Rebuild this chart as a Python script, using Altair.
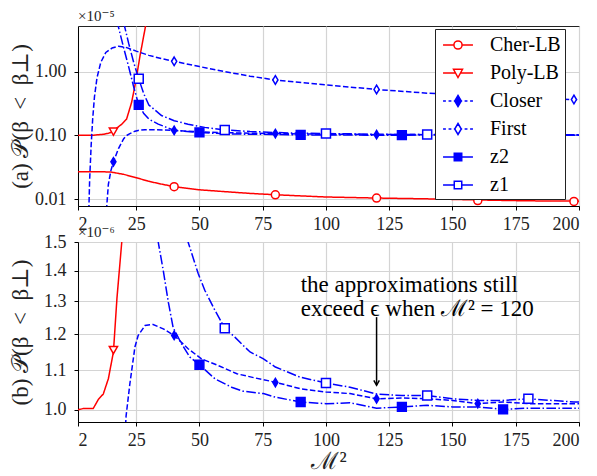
import altair as alt
import pandas as pd

FONT = "Liberation Serif, DejaVu Serif, serif"
SERIES = ["Cher-LB", "Poly-LB", "Closer", "First", "z2", "z1"]
B_SERIES = ["Poly-LB", "Closer", "z2", "z1"]
COLORS = ["#ff0000", "#ff0000", "#0000ff", "#0000ff", "#0000ff", "#0000ff"]
FILLS = ["#ffffff", "#ffffff", "#0000ff", "#ffffff", "#0000ff", "#ffffff"]
DASHES = [[1, 0], [1, 0], [5.5, 2.4], [5.5, 2.4], [9.6, 2.4, 1.5, 2.4], [9.6, 2.4, 1.5, 2.4]]
TRI = "M-1,-0.8L1,-0.8L0,0.95Z"
DIA = "M0,-1L0.6,0L0,1L-0.6,0Z"
SHAPES = ["circle", TRI, DIA, DIA, "square", "square"]
SIZES = [64, 81, 121, 121, 56, 56]
XTICKS = [2, 25, 50, 75, 100, 125, 150, 175, 200]

# curves, values in units of 1e-5
cher_x = [2, 10, 15, 20, 25, 30, 35, 40, 50, 60, 70, 80, 100, 120, 140, 160, 180, 200]
cher_y = [0.027, 0.027, 0.0266, 0.0245, 0.0217, 0.019, 0.0172, 0.0157, 0.0140, 0.0131,
          0.0123, 0.0117, 0.0108, 0.0104, 0.0101, 0.0097, 0.0094, 0.0093]
poly_x = [2, 4, 8, 10, 12, 14, 16, 17.4, 19.3, 21.2, 23.2, 25, 26.5, 28.7, 29.5]
poly_y = [0.100, 0.1003, 0.1003, 0.1025, 0.1039, 0.1078, 0.115, 0.131, 0.150, 0.18,
          0.33, 0.76, 1.77, 5.2, 7.0]
closer_x = [13, 14, 15, 16, 18, 20, 21, 22.5, 24.5, 25.8, 28.5, 31.7, 35.7, 40, 45.5, 50.8,
            57.4, 64.8, 72, 80, 90, 100, 109.5, 120, 130.5, 140, 150, 160, 170, 180, 200]
closer_y = [0.005, 0.017, 0.028, 0.0385, 0.062, 0.088, 0.0985, 0.1065, 0.1164, 0.1197, 0.1226,
            0.1229, 0.1216, 0.1197, 0.1159, 0.1131, 0.1113, 0.1091, 0.108, 0.1069, 0.1052,
            0.1044, 0.1040, 0.1027, 0.1029, 0.1027, 0.1023, 0.1015, 0.1019, 0.1015, 0.1015]
first_x = [6.2, 6.6, 7.2, 7.8, 8.5, 9.5, 11, 13, 15.5, 18, 21, 25, 30, 35, 40, 50, 60, 70,
           80, 100, 120, 140, 160, 180, 200]
first_y = [0.005, 0.02, 0.07, 0.18, 0.4, 0.8, 1.4, 2.0, 2.35, 2.5, 2.4, 2.1, 1.8, 1.6, 1.45,
           1.2, 1.0, 0.85, 0.74, 0.62, 0.525, 0.46, 0.42, 0.39, 0.36]
z2_x = [17.5, 18, 20, 22, 24, 26, 28, 30, 33.7, 35.7, 37.7, 39.6, 42.9, 46.2, 50, 56.1, 62.7,
        67.3, 75.3, 80, 90, 100, 109.5, 120, 130, 140, 150, 160, 170, 180, 200]
z2_y = [6.5, 5.0, 2.4, 1.2, 0.58, 0.30, 0.22, 0.18, 0.15, 0.140, 0.1297, 0.122, 0.1173, 0.1136,
        0.1115, 0.1078, 0.1056, 0.1046, 0.104, 0.1031, 0.1019, 0.1015, 0.1017, 0.1004, 0.1007,
        0.1011, 0.1007, 0.1007, 0.1001, 0.1004, 0.1004]
z1_x = [20, 22, 24, 26, 28, 30, 35, 40, 45.5, 49.5, 52.1, 56.1, 60, 64, 67.9, 70, 75.3, 80,
        89.8, 100, 109.5, 120, 130, 140, 150, 160, 170, 180, 198, 200]
z1_y = [6.0, 2.8, 1.4, 0.77, 0.45, 0.30, 0.205, 0.17, 0.15, 0.139, 0.1335, 0.1272, 0.1218,
        0.1192, 0.1164, 0.115, 0.1131, 0.1109, 0.1082, 0.1067, 0.1056, 0.1039, 0.1035, 0.1035,
        0.1027, 0.1023, 0.1023, 0.1027, 0.1019, 0.1019]

# marker positions
cher_mx, cher_my = [40, 80, 120, 160, 198], [0.0157, 0.0117, 0.0104, 0.0095, 0.0092]
poly_mx, poly_my = [16], [0.1156]
closer_mx, closer_my = [16, 40, 80, 120, 160], [0.0385, 0.1197, 0.1068, 0.1027, 0.1015]
first_mx, first_my = [40, 80, 120, 160, 198], [1.45, 0.74, 0.525, 0.43, 0.365]
z2_mx, z2_my = [26, 50, 90, 130, 170], [0.30, 0.1115, 0.1019, 0.1007, 0.1001]
z1_mx, z1_my = [26, 60, 100, 140, 180], [0.77, 0.1218, 0.1067, 0.1035, 0.1027]

ANN_TEXT = "the approximations still\nexceed ϵ when ℳ² = 120"
ANN_X, ANN_Y = 90, 1.33
ARROW_X, ARROW_Y0, ARROW_Y1 = 120, 1.251, 1.061


def long(d):
    rows = []
    for s, (xs, ys) in d.items():
        for xx, yy in zip(xs, ys):
            rows.append({"series": s, "x": xx, "v": yy})
    return pd.DataFrame(rows)


lines = long({"Cher-LB": (cher_x, cher_y), "Poly-LB": (poly_x, poly_y),
              "Closer": (closer_x, closer_y), "First": (first_x, first_y),
              "z2": (z2_x, z2_y), "z1": (z1_x, z1_y)})
marks = long({"Cher-LB": (cher_mx, cher_my), "Poly-LB": (poly_mx, poly_my),
              "Closer": (closer_mx, closer_my), "First": (first_mx, first_my),
              "z2": (z2_mx, z2_my), "z1": (z1_mx, z1_my)})

# legend symbols (unit = 11 px): a line through the marker
DASHED = ("M-1.36,0L-1.1,0M-0.86,0L-0.6,0M-0.38,0L-0.3,0"
          "M0.3,0L0.38,0M0.6,0L0.86,0M1.1,0L1.36,0")
LEG_PATHS = [
    "M-1.36,0L-0.37,0M0.37,0L1.36,0M0.37,0A0.37,0.37 0 1,1 -0.37,0A0.37,0.37 0 1,1 0.37,0Z",
    "M-1.36,0L-0.22,0M0.22,0L1.36,0M-0.41,-0.34L0.41,-0.34L0,0.41Z",
    DASHED + "M0,-0.5L0.3,0L0,0.5L-0.3,0Z",
    DASHED + "M0,-0.5L0.3,0L0,0.5L-0.3,0Z",
    "M-1.36,0L-0.34,0M0.34,0L1.36,0M-0.34,-0.34L0.34,-0.34L0.34,0.34L-0.34,0.34Z",
    "M-1.36,0L-0.34,0M0.34,0L1.36,0M-0.34,-0.34L0.34,-0.34L0.34,0.34L-0.34,0.34Z",
]

legend_a = alt.Legend(
    title=None, orient="none", legendX=357, legendY=3, fillColor="white",
    strokeColor="#222222", padding=4, labelFont=FONT, labelFontSize=20,
    labelColor="black", symbolSize=484, symbolStrokeWidth=1.5, rowPadding=6,
    symbolOffset=7, labelOffset=20, zindex=2,
)

x_scale = alt.Scale(domain=[2, 200], nice=False, zero=False)


def x_enc(title):
    return alt.X("x:Q", scale=x_scale, axis=alt.Axis(values=XTICKS, title=title))


def panel(field, series_subset, ydomain, yticks, yfmt, ytitle, with_legend, exp_text, xtitle, extra=()):
    yscale = alt.Scale(type="log", domain=ydomain, nice=False)
    yaxis = alt.Axis(values=yticks, format=yfmt, title=ytitle, titleX=-46,
                     titleAngle=270, titleBaseline="bottom", labelPadding=8)
    y = alt.Y(f"{field}:Q", scale=yscale, axis=yaxis)
    calc = {"w": "datum.v * 10"}
    filt = alt.FieldOneOfPredicate(field="series", oneOf=series_subset)
    ln = (alt.Chart(lines).transform_filter(filt).transform_calculate(**calc)
          .mark_line(clip=True, strokeWidth=1.5)
          .encode(x=x_enc(xtitle), y=y,
                  color=alt.Color("series:N", scale=alt.Scale(domain=SERIES, range=COLORS), legend=None),
                  strokeDash=alt.StrokeDash("series:N", scale=alt.Scale(domain=SERIES, range=DASHES), legend=None)))
    pt = (alt.Chart(marks).transform_filter(filt).transform_calculate(**calc)
          .mark_point(clip=True, filled=True, opacity=1, fillOpacity=1, strokeWidth=1.5)
          .encode(x=x_enc(xtitle), y=y,
                  shape=alt.Shape("series:N", scale=alt.Scale(domain=SERIES, range=SHAPES), legend=None),
                  stroke=alt.Stroke("series:N", scale=alt.Scale(domain=SERIES, range=COLORS), legend=None),
                  fill=alt.Fill("series:N", scale=alt.Scale(domain=SERIES, range=FILLS), legend=None),
                  size=alt.Size("series:N", scale=alt.Scale(domain=SERIES, range=SIZES), legend=None)))
    ex = (alt.Chart(pd.DataFrame({"t": [exp_text]}))
          .mark_text(align="left", baseline="alphabetic", font=FONT, fontSize=15, color="#222222")
          .encode(text="t:N", x=alt.value(0), y=alt.value(-5)))
    layers = [ln, pt, ex]
    if with_legend:
        lg = (alt.Chart(marks).transform_filter("false")
              .mark_point(filled=True, opacity=1, fillOpacity=1, strokeWidth=1.5, size=484)
              .encode(x=x_enc(xtitle), y=y,
                      shape=alt.Shape("series:N", scale=alt.Scale(domain=SERIES, range=LEG_PATHS), legend=legend_a),
                      stroke=alt.Stroke("series:N", scale=alt.Scale(domain=SERIES, range=COLORS), legend=legend_a),
                      fill=alt.Fill("series:N", scale=alt.Scale(domain=SERIES, range=FILLS), legend=legend_a)))
        layers.append(lg)
    for mk in extra:
        layers.append(mk(yscale, yaxis, xtitle))
    ch = alt.layer(*layers).properties(width=501, height=180)
    if with_legend:
        ch = ch.resolve_scale(shape="independent", stroke="independent", fill="independent")
    return ch


def ann_text(yscale, yaxis, xtitle):
    return (alt.Chart(pd.DataFrame({"x": [ANN_X], "w": [ANN_Y], "t": [ANN_TEXT]}))
            .mark_text(align="left", baseline="alphabetic", lineBreak="\n", lineHeight=24,
                       font=FONT, fontSize=23, color="black")
            .encode(x=x_enc(xtitle), y=alt.Y("w:Q", scale=yscale, axis=yaxis), text="t:N"))


def arrow_rule(yscale, yaxis, xtitle):
    return (alt.Chart(pd.DataFrame({"x": [ARROW_X], "w": [ARROW_Y0], "w2": [ARROW_Y1]}))
            .mark_rule(color="black", strokeWidth=1.5)
            .encode(x=x_enc(xtitle), y=alt.Y("w:Q", scale=yscale, axis=yaxis), y2="w2:Q"))


def arrow_head(yscale, yaxis, xtitle):
    return (alt.Chart(pd.DataFrame({"x": [ARROW_X], "w": [ARROW_Y1]}))
            .mark_point(shape="M-0.55,-1L0,0L0.55,-1", filled=False, size=100, color="black",
                        strokeWidth=1.5, opacity=1)
            .encode(x=x_enc(xtitle), y=alt.Y("w:Q", scale=yscale, axis=yaxis)))


top = panel("v", SERIES, [0.0078, 5.2], [0.01, 0.1, 1], ".2f", "(a) 𝒫(β\u2002<\u2002β⊥)",
            True, "×10⁻⁵", None)
bottom = panel("w", B_SERIES, [0.971, 1.5], [1.0, 1.1, 1.2, 1.3, 1.4, 1.5], ".1f",
               "(b) 𝒫(β\u2002<\u2002β⊥)", False, "×10⁻⁶", "ℳ²",
               extra=(ann_text, arrow_rule, arrow_head))

chart = (alt.vconcat(top, bottom, spacing=36, bounds="flush")
         .resolve_scale(y="independent", shape="independent", stroke="independent",
                        fill="independent")
         .resolve_legend(shape="independent", stroke="independent", fill="independent")
         .properties(padding={"left": 0, "top": 0, "right": 5, "bottom": 2})
         .configure_view(stroke="#222222", strokeWidth=1)
         .configure_axis(labelFont=FONT, labelFontSize=18, labelColor="#222222",
                         titleFont=FONT, titleFontSize=23, titleFontWeight="normal",
                         titleColor="#222222", domainColor="black", tickColor="black",
                         tickSize=4, gridColor="#d4d4d4", gridWidth=1.2, labelPadding=3)
         .configure_axisX(titleFontSize=24, titlePadding=0, labelPadding=5))

chart.save("out.html", embed_options={"renderer": "svg", "actions": False})
